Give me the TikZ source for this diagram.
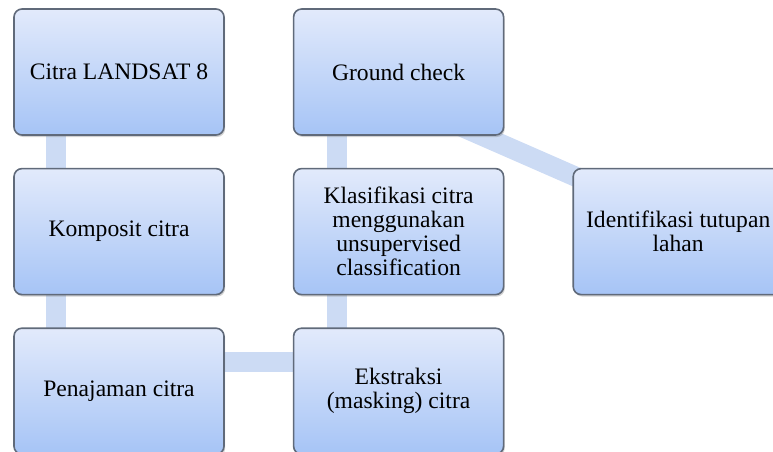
\documentclass[tikz,border=0pt]{standalone}
\usepackage{fontspec}
\setmainfont{Liberation Serif}
\usetikzlibrary{positioning,shadows,backgrounds}

\definecolor{boxtop}{RGB}{226,234,251}
\definecolor{boxbot}{RGB}{166,196,246}
\definecolor{boxline}{RGB}{96,106,122}
\definecolor{barfill}{RGB}{204,219,244}

\begin{document}
\begin{tikzpicture}[%
    x=0.5pt, y=-0.5pt,           % one unit is one pixel of the layout
    node distance=16pt and 34pt, % gaps between the boxes
    ]
% -------------------------------------------------
% Box and connector styles
\tikzset{
  proc/.style={draw=boxline, line width=0.8pt, rounded corners=4pt,
    top color=boxtop, bottom color=boxbot, minimum width=105pt,
    minimum height=63pt, align=center, inner sep=2pt,
    font=\fontsize{11.8}{12}\selectfont,
    drop shadow={opacity=0.35, shadow xshift=0.6pt, shadow yshift=-1pt}},
  bar/.style={draw=barfill, line width=10pt}
}
\useasboundingbox (0,0) rectangle (773,451);
% -------------------------------------------------
% First column, top to bottom
\node [proc] (lsat) at (119,72) {Citra LANDSAT 8};
\node [proc, below=of lsat] (komp) {Komposit citra};
\node [proc, below=of komp] (pena) {Penajaman citra};
% Second column, bottom to top
\node [proc, right=of pena] (ekst) {Ekstraksi\\(masking) citra};
\node [proc, above=of ekst] (klas) {Klasifikasi citra\\menggunakan\\unsupervised\\classification};
\node [proc, above=of klas] (gcek) {Ground check};
% Last box, to the right
\node [proc, right=of klas] (iden) {Identifikasi tutupan\\lahan};
% -------------------------------------------------
% Connecting bars sit behind the boxes
\begin{pgfonlayer}{background}
\draw [bar] ([xshift=-31.5pt]lsat.center) -- ([xshift=-31.5pt]komp.center);
\draw [bar] ([xshift=-31.5pt]komp.center) -- ([xshift=-31.5pt]pena.center);
\draw [bar] ([yshift=14.75pt]pena.center) -- ([yshift=14.75pt]ekst.center);
\draw [bar] ([xshift=-31pt]ekst.center) -- ([xshift=-31pt]klas.center);
\draw [bar] ([xshift=-31pt]klas.center) -- ([xshift=-31pt]gcek.center);
\draw [bar] ([shift={(21.5pt,-23pt)}]gcek.center) -- ([shift={(-36.5pt,21pt)}]iden.center);
\end{pgfonlayer}
\end{tikzpicture}
\end{document}
